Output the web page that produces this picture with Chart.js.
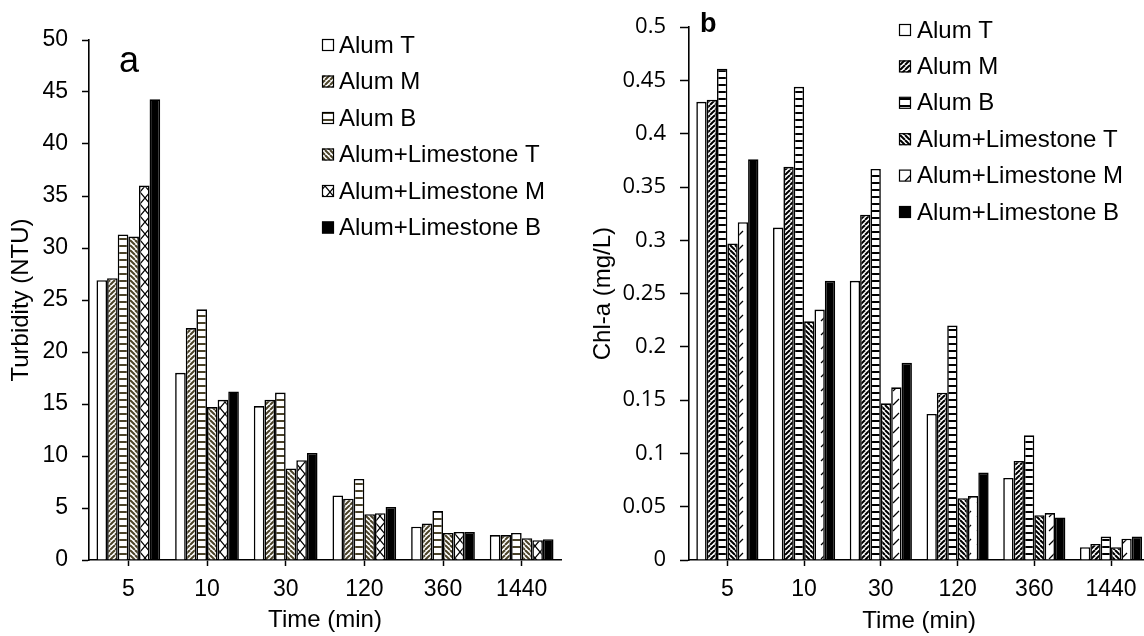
<!DOCTYPE html>
<html>
<head>
<meta charset="utf-8">
<script src="https://cdn.jsdelivr.net/npm/chart.js@4.4.1/dist/chart.umd.min.js"></script>
<style>
  html, body { margin: 0; padding: 0; background: #fff; overflow: hidden; width: 1144px; height: 636px; }
  #chartA { position: absolute; left: 0; top: 0; }
  #chartB { position: absolute; left: 580px; top: 0; }
</style>
</head>
<body>
<canvas id="chartA" width="580" height="636"></canvas>
<canvas id="chartB" width="580" height="636"></canvas>
<script>
// categories and series names
const times = ['5', '10', '30', '120', '360', '1440'];
const seriesNames = ['Alum T', 'Alum M', 'Alum B', 'Alum+Limestone T', 'Alum+Limestone M', 'Alum+Limestone B'];

// panel a - turbidity (NTU)
const turbAlumT = [26.9, 18.0, 14.8, 6.2, 3.2, 2.4];
const turbAlumM = [27.1, 22.3, 15.4, 5.9, 3.5, 2.4];
const turbAlumB = [31.3, 24.1, 16.1, 7.8, 4.7, 2.6];
const turbLimeT = [31.1, 14.7, 8.8, 4.4, 2.6, 2.1];
const turbLimeM = [36.0, 15.4, 9.6, 4.5, 2.7, 1.9];
const turbLimeB = [44.3, 16.2, 10.3, 5.1, 2.7, 2.0];

// panel b - Chl-a (mg/L)
const chlAlumT = [0.430, 0.312, 0.262, 0.137, 0.077, 0.012];
const chlAlumM = [0.432, 0.369, 0.324, 0.157, 0.093, 0.015];
const chlAlumB = [0.461, 0.444, 0.367, 0.220, 0.117, 0.022];
const chlLimeT = [0.297, 0.224, 0.147, 0.058, 0.042, 0.012];
const chlLimeM = [0.317, 0.235, 0.162, 0.060, 0.044, 0.020];
const chlLimeB = [0.376, 0.262, 0.185, 0.082, 0.040, 0.022];

const turbTicks = { min: 0, max: 50, step: 5 };
const chlTicks = { min: 0, max: 0.5, step: 0.05 };

Chart.defaults.font.family = '"Liberation Sans", Arial, sans-serif';
Chart.defaults.color = '#000';

// hatch fills
function makePattern(kind, color) {
  const c = document.createElement('canvas');
  const g = c.getContext('2d');
  if (kind === 'up' || kind === 'down') {
    const s = 5;
    c.width = s; c.height = s;
    g.fillStyle = '#fff'; g.fillRect(0, 0, s, s);
    g.strokeStyle = color; g.lineWidth = 2;
    for (let o = -s; o <= s; o += s) {
      g.beginPath();
      if (kind === 'up') { g.moveTo(o, s); g.lineTo(o + s, 0); }
      else { g.moveTo(o, 0); g.lineTo(o + s, s); }
      g.stroke();
    }
  } else if (kind === 'horiz') {
    c.width = 4; c.height = 7;
    g.fillStyle = '#fff'; g.fillRect(0, 0, 4, 7);
    g.fillStyle = color; g.fillRect(0, 0, 4, 2);
  } else if (kind === 'cross') {
    c.width = 10; c.height = 12;
    g.fillStyle = '#fff'; g.fillRect(0, 0, 10, 12);
    g.strokeStyle = color; g.lineWidth = 1.2;
    g.beginPath();
    g.moveTo(0, 0); g.lineTo(10, 12);
    g.moveTo(10, 0); g.lineTo(0, 12);
    g.stroke();
  } else if (kind === 'dash') {
    c.width = 12; c.height = 14;
    g.fillStyle = '#fff'; g.fillRect(0, 0, 12, 14);
    g.strokeStyle = color; g.lineWidth = 1.3;
    g.beginPath();
    g.moveTo(1, 13); g.lineTo(7, 7);
    g.stroke();
  }
  return g.createPattern(c, 'repeat');
}

const olive = '#4a4228';
const fillsA = ['#fff', makePattern('up', olive), makePattern('horiz', olive),
  makePattern('down', olive), makePattern('cross', '#000'), '#000'];
const fillsB = ['#fff', makePattern('up', '#000'), makePattern('horiz', '#000'),
  makePattern('down', '#000'), makePattern('dash', '#000'), '#000'];

// legend in a column plus the panel letter
const boxLegend = {
  id: 'boxLegend',
  afterDraw(chart, args, opts) {
    const ctx = chart.ctx;
    ctx.save();
    ctx.font = opts.font;
    ctx.textBaseline = 'middle';
    chart.data.datasets.forEach((ds, i) => {
      const y = opts.y + i * opts.gap;
      ctx.fillStyle = ds.backgroundColor;
      ctx.fillRect(opts.x, y - 6, 12, 12);
      ctx.strokeStyle = '#000';
      ctx.lineWidth = 1.2;
      ctx.strokeRect(opts.x + 0.5, y - 5.5, 11, 11);
      ctx.fillStyle = '#000';
      ctx.fillText(ds.label, opts.textX, y + 1);
    });
    ctx.font = opts.letterFont;
    ctx.textBaseline = 'alphabetic';
    ctx.fillText(opts.letter, opts.letterX, opts.letterY);
    ctx.restore();
  }
};

function datasets(values, fills) {
  return values.map((v, i) => ({
    label: seriesNames[i],
    data: v,
    backgroundColor: fills[i],
    borderColor: '#000',
    borderWidth: 1.6,
    barPercentage: 1,
    categoryPercentage: 0.81
  }));
}

new Chart(document.getElementById('chartA'), {
  type: 'bar',
  data: {
    labels: times,
    datasets: datasets([turbAlumT, turbAlumM, turbAlumB, turbLimeT, turbLimeM, turbLimeB], fillsA)
  },
  options: {
    responsive: false,
    animation: false,
    layout: { padding: { top: 40, right: 19, left: 0, bottom: 0 } },
    plugins: {
      legend: { display: false },
      tooltip: { enabled: false },
      boxLegend: {
        x: 322, textX: 339, y: 45, gap: 36.5, font: '24px "Liberation Sans", Arial',
        letter: 'a', letterX: 119, letterY: 72, letterFont: '36px "Liberation Sans", Arial'
      }
    },
    scales: {
      x: {
        afterFit(scale) { scale.height = 76; },
        grid: { offset: false, drawOnChartArea: false, tickLength: 6, tickColor: '#000', tickWidth: 1.5 },
        border: { color: '#000', width: 1.6 },
        ticks: { font: { size: 23 }, padding: 10, color: '#000' },
        title: { display: true, text: 'Time (min)', font: { size: 24 }, padding: { top: 1, bottom: 1 }, color: '#000' }
      },
      y: {
        min: turbTicks.min, max: turbTicks.max,
        afterFit(scale) { scale.width = 89; },
        grid: { drawOnChartArea: false, tickLength: 7, tickColor: '#000', tickWidth: 1.5 },
        border: { color: '#000', width: 1.6 },
        ticks: { stepSize: turbTicks.step, font: { size: 23 }, padding: 14, color: '#000' },
        title: { display: true, text: 'Turbidity (NTU)', font: { size: 24 }, padding: { top: 7, bottom: 7 }, color: '#000' }
      }
    }
  },
  plugins: [boxLegend]
});

new Chart(document.getElementById('chartB'), {
  type: 'bar',
  data: {
    labels: times,
    datasets: datasets([chlAlumT, chlAlumM, chlAlumB, chlLimeT, chlLimeM, chlLimeB], fillsB)
  },
  options: {
    responsive: false,
    animation: false,
    layout: { padding: { top: 23, right: 10.6, left: 0, bottom: 0 } },
    plugins: {
      legend: { display: false },
      tooltip: { enabled: false },
      boxLegend: {
        x: 319, textX: 337, y: 30, gap: 36.4, font: '24px "Liberation Sans", Arial',
        letter: 'b', letterX: 120, letterY: 32, letterFont: 'bold 27px "Liberation Sans", Arial'
      }
    },
    scales: {
      x: {
        afterFit(scale) { scale.height = 76; },
        grid: { offset: false, drawOnChartArea: false, tickLength: 6, tickColor: '#000', tickWidth: 1.5 },
        border: { color: '#000', width: 1.6 },
        ticks: { font: { size: 23 }, padding: 10, color: '#000' },
        title: { display: true, text: 'Time (min)', font: { size: 24 }, padding: { top: 0, bottom: 0 }, color: '#000' }
      },
      y: {
        min: chlTicks.min, max: chlTicks.max,
        afterFit(scale) { scale.width = 109; },
        grid: { drawOnChartArea: false, tickLength: 9, tickColor: '#000', tickWidth: 1.5 },
        border: { color: '#000', width: 1.6 },
        ticks: {
          stepSize: chlTicks.step, font: { size: 22, family: '"Open Sans", sans-serif' }, padding: 14, color: '#000',
          callback: v => String(Number(v.toFixed(2)))
        },
        title: { display: true, text: 'Chl-a (mg/L)', font: { size: 24 }, padding: { top: 9, bottom: 9 }, color: '#000' }
      }
    }
  },
  plugins: [boxLegend]
});
</script>
</body>
</html>
